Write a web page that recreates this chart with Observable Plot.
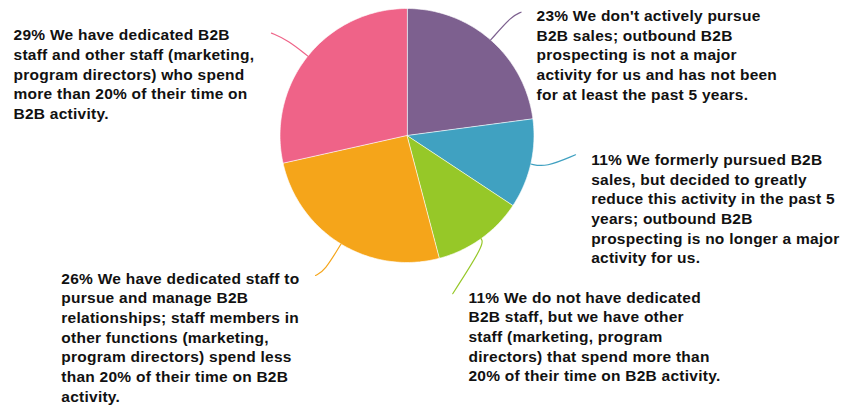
<!DOCTYPE html>
<html>
<head>
<meta charset="utf-8">
<script src="https://cdn.jsdelivr.net/npm/d3@7"></script>
<script src="https://cdn.jsdelivr.net/npm/@observablehq/plot@0.6"></script>
<style>
  html, body { margin: 0; padding: 0; background: #ffffff; }
  #chart svg { display: block; }
  #chart text { letter-spacing: 0.25px; }
</style>
</head>
<body>
<div id="chart"></div>
<script>
// ---- Data ----
const categories = ["Don't pursue", "Formerly pursued", "No dedicated staff", "Dedicated, others <20%", "Dedicated, others >20%"];
const shares = [22.9, 11.4, 11.6, 25.6, 28.5];
const labels = [
  "23% We don't actively pursue\nB2B sales; outbound B2B\nprospecting is not a major\nactivity for us and has not been\nfor at least the past 5 years.",
  "11% We formerly pursued B2B\nsales, but decided to greatly\nreduce this activity in the past 5\nyears; outbound B2B\nprospecting is no longer a major\nactivity for us.",
  "11% We do not have dedicated\nB2B staff, but we have other\nstaff (marketing, program\ndirectors) that spend more than\n20% of their time on B2B activity.",
  "26% We have dedicated staff to\npursue and manage B2B\nrelationships; staff members in\nother functions (marketing,\nprogram directors) spend less\nthan 20% of their time on B2B\nactivity.",
  "29% We have dedicated B2B\nstaff and other staff (marketing,\nprogram directors) who spend\nmore than 20% of their time on\nB2B activity."
];
const colors = ["#7d608f", "#40a1c1", "#96c828", "#f5a51a", "#ef6388"];

// ---- Layout (in pie-radius units, y down) ----
const labelX = [1.02, 1.45, 0.484, -2.722, -3.098];
const labelY = [-0.984, 0.150, 1.234, 1.084, -0.832];
const leaderEndX = [0.898, 1.327, 0.360, -0.720, -1.067];
const leaderEndY = [-0.971, 0.152, 1.246, 1.102, -0.806];
const leaderBend = [1.25, 1.12, 1.05, 1.25, 1.2];

// ---- Build geometry from the data ----
const arcs = d3.pie().sort(null).value(d => d)(shares);
const slices = arcs.map((a, i) => {
  const n = Math.max(2, Math.ceil((a.endAngle - a.startAngle) / 0.02));
  const ring = [[0, 0]];
  for (let k = 0; k <= n; ++k) {
    const t = a.startAngle + (a.endAngle - a.startAngle) * k / n;
    ring.push([Math.sin(t), -Math.cos(t)]);
  }
  ring.push([0, 0]);
  return {type: "Feature", properties: {category: categories[i]}, geometry: {type: "Polygon", coordinates: [ring]}};
});

const leaders = [];
arcs.forEach((a, i) => {
  const m = (a.startAngle + a.endAngle) / 2;
  leaders.push({category: categories[i], x: Math.sin(m), y: -Math.cos(m)});
  leaders.push({category: categories[i], x: leaderBend[i] * Math.sin(m), y: -leaderBend[i] * Math.cos(m)});
  leaders.push({category: categories[i], x: leaderEndX[i], y: leaderEndY[i]});
});

const labelData = categories.map((c, i) => ({category: c, text: labels[i], x: labelX[i], y: labelY[i]}));

const R = 127, cx = 406.5, cy = 135;
const chart = Plot.plot({
  width: 846,
  height: 413,
  marginLeft: cx - R,
  marginRight: 846 - (cx + R),
  marginTop: cy - R,
  marginBottom: 413 - (cy + R),
  projection: {type: "identity", domain: {type: "MultiPoint", coordinates: [[-1, -1], [1, 1]]}, clip: false, inset: 0},
  color: {domain: categories, range: colors},
  marks: [
    Plot.geo(slices, {fill: d => d.properties.category, stroke: "#ffffff", strokeWidth: 0.8, strokeOpacity: 0.8}),
    Plot.line(leaders, {x: "x", y: "y", z: "category", stroke: "category", strokeWidth: 1.2, curve: "basis"}),
    Plot.text(labelData, {
      x: "x", y: "y", text: "text",
      textAnchor: "start", lineAnchor: "top", lineHeight: 1.27, dy: -3.5,
      fontSize: 15.5, fontWeight: "bold", fill: "#111111",
      fontFamily: "'Liberation Sans', Arial, Helvetica, sans-serif"
    })
  ]
});
document.getElementById("chart").appendChild(chart);
</script>
</body>
</html>
